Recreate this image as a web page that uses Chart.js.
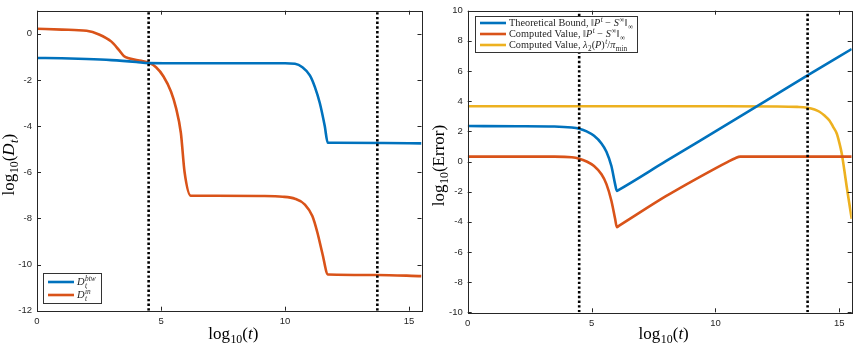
<!DOCTYPE html>
<html>
<head>
<meta charset="utf-8">
<script src="https://cdn.jsdelivr.net/npm/chart.js@4"></script>
<style>
  body { margin: 0; background: #fff; }
  .panel { position: absolute; top: 0; height: 354px; }
</style>
</head>
<body>
<div class="panel" style="left:0;width:430px"><canvas id="leftChart" width="430" height="354"></canvas></div>
<div class="panel" style="left:430px;width:426px"><canvas id="rightChart" width="426" height="354"></canvas></div>
<script>
// ---- data (x = log10(t)) ----
const btwX = [0, 1, 2, 3, 4, 4.5, 6, 8, 10, 10.4, 10.7, 11, 11.2, 11.4, 11.6, 11.72, 12, 14, 15.5];
const btwY = [-1.05, -1.06, -1.09, -1.14, -1.22, -1.27, -1.28, -1.28, -1.28, -1.3, -1.45, -1.8, -2.3, -3.0, -4.0, -4.72, -4.72, -4.73, -4.75];

const inX = [0, 1, 2, 2.5, 3, 3.3, 3.5, 3.7, 4.2, 4.5, 4.8, 5.1, 5.4, 5.6, 5.8, 5.95, 6.2, 7, 9, 9.9, 10.4, 10.8, 11.1, 11.3, 11.5, 11.73, 13.7, 15.5];
const inY = [0.22, 0.18, 0.13, -0.03, -0.34, -0.7, -0.96, -1.06, -1.17, -1.25, -1.45, -1.85, -2.5, -3.2, -4.3, -6.0, -7.02, -7.02, -7.03, -7.06, -7.15, -7.4, -7.9, -8.6, -9.5, -10.43, -10.45, -10.5];

const boundX = [0, 2, 3.5, 4.2, 4.5, 4.8, 5.1, 5.4, 5.6, 5.8, 5.95, 6.02, 6.1, 8, 10, 12, 13.7, 15.5];
const boundY = [2.35, 2.34, 2.32, 2.25, 2.17, 2.0, 1.7, 1.2, 0.65, -0.3, -1.5, -1.95, -1.88, 0.02, 2.0, 3.98, 5.7, 7.46];

const compX = [0, 3.5, 4.2, 4.5, 4.8, 5.1, 5.4, 5.6, 5.8, 5.95, 6.02, 6.1, 8, 10, 10.5, 10.8, 11.0, 12, 15.5];
const compY = [0.32, 0.32, 0.28, 0.19, 0.0, -0.3, -0.85, -1.5, -2.6, -3.8, -4.35, -4.27, -2.3, -0.45, -0.02, 0.22, 0.32, 0.32, 0.32];

const lamX = [0, 5, 10, 12.5, 13.3, 13.7, 14.0, 14.2, 14.4, 14.6, 14.75, 14.9, 15.0, 15.1, 15.2, 15.3, 15.4, 15.5];
const lamY = [3.66, 3.66, 3.66, 3.65, 3.62, 3.57, 3.45, 3.3, 3.05, 2.72, 2.3, 1.84, 1.25, 0.52, -0.55, -1.69, -2.75, -3.8];

const markerX = [4.5, 13.72];   // dotted vertical lines

const xTicks = [0, 5, 10, 15];
const leftYTicks = [-12, -10, -8, -6, -4, -2, 0];
const rightYTicks = [-10, -8, -6, -4, -2, 0, 2, 4, 6, 8, 10];

// rich labels: t = text, i = italic, sup/sub = scripts
const leftYTitle = [{t: 'log', sub: '10'}, {t: '('}, {t: 'D', i: true, sub: 't', subI: true}, {t: ')'}];
const rightYTitle = [{t: 'log', sub: '10'}, {t: '(Error)'}];
const xTitle = [{t: 'log', sub: '10'}, {t: '('}, {t: 't', i: true}, {t: ')'}];

const leftLegend = [
    [{t: 'D', i: true, sup: 'btw', supI: true, sub: 't', subI: true}],
    [{t: 'D', i: true, sup: 'in', supI: true, sub: 't', subI: true}]
];
const rightLegend = [
    [{t: 'Theoretical Bound, \u2016'}, {t: 'P', i: true, sup: 't', supI: true}, {t: ' \u2212 '}, {t: 'S', i: true, sup: '\u221E'}, {t: '\u2016', sub: '\u221E'}],
    [{t: 'Computed Value, \u2016'}, {t: 'P', i: true, sup: 't', supI: true}, {t: ' \u2212 '}, {t: 'S', i: true, sup: '\u221E'}, {t: '\u2016', sub: '\u221E'}],
    [{t: 'Computed Value, '}, {t: '\u03BB', i: true, sub: '2'}, {t: '('}, {t: 'P', i: true}, {t: ')', sup: 't', supI: true}, {t: '/'}, {t: '\u03C0', i: true, sub: 'min'}]
];

const BLUE = '#0072BD', ORANGE = '#D95319', YELLOW = '#EDB120';
const AXIS = '#262626';
const SERIF = '"Liberation Serif", "Times New Roman", serif';

function pts(xs, ys) { return xs.map((x, i) => ({x: x, y: ys[i]})); }

function curve(xs, ys, color) {
    return {
        data: pts(xs, ys), borderColor: color, borderWidth: 2.6,
        pointRadius: 0, cubicInterpolationMode: 'monotone', fill: false
    };
}

function markers(yMin, yMax) {
    return markerX.map(x => ({
        data: [{x: x, y: yMin}, {x: x, y: yMax}],
        borderColor: '#000', borderWidth: 2.6, borderDash: [2.4, 2.3],
        pointRadius: 0, fill: false
    }));
}

// draw text made of segments, returns width
function richWidth(ctx, segs, size) {
    let w = 0;
    segs.forEach(s => {
        ctx.font = (s.i ? 'italic ' : '') + size + 'px ' + SERIF;
        w += ctx.measureText(s.t).width;
        let sw = 0;
        const ss = size * 0.7;
        if (s.sup) { ctx.font = (s.supI ? 'italic ' : '') + ss + 'px ' + SERIF; sw = Math.max(sw, ctx.measureText(s.sup).width); }
        if (s.sub) { ctx.font = (s.subI ? 'italic ' : '') + ss + 'px ' + SERIF; sw = Math.max(sw, ctx.measureText(s.sub).width); }
        w += sw ? sw + 0.5 : 0;
    });
    return w;
}

function drawRich(ctx, segs, x, y, size) {
    ctx.textBaseline = 'alphabetic';
    ctx.textAlign = 'left';
    segs.forEach(s => {
        ctx.font = (s.i ? 'italic ' : '') + size + 'px ' + SERIF;
        ctx.fillText(s.t, x, y);
        x += ctx.measureText(s.t).width;
        const ss = size * 0.7;
        let sw = 0;
        if (s.sup) {
            ctx.font = (s.supI ? 'italic ' : '') + ss + 'px ' + SERIF;
            ctx.fillText(s.sup, x + 0.5, y - size * 0.38);
            sw = Math.max(sw, ctx.measureText(s.sup).width);
        }
        if (s.sub) {
            ctx.font = (s.subI ? 'italic ' : '') + ss + 'px ' + SERIF;
            ctx.fillText(s.sub, x + 0.5, y + size * 0.22);
            sw = Math.max(sw, ctx.measureText(s.sub).width);
        }
        x += sw ? sw + 0.5 : 0;
    });
}

// MATLAB-like box, inward ticks, axis titles and legend
function frame(cfg) {
    return {
        id: 'frame',
        afterDatasetsDraw(chart) {
            const ctx = chart.ctx, a = chart.chartArea;
            const xs = chart.scales.x, ys = chart.scales.y;
            ctx.save();
            ctx.strokeStyle = AXIS;
            ctx.lineWidth = 1;
            ctx.beginPath();
            xTicks.forEach(v => {
                const px = Math.round(xs.getPixelForValue(v)) + 0.5;
                ctx.moveTo(px, a.bottom); ctx.lineTo(px, a.bottom - 4);
                ctx.moveTo(px, a.top); ctx.lineTo(px, a.top + 4);
            });
            cfg.yTicks.forEach(v => {
                const py = Math.round(ys.getPixelForValue(v)) + 0.5;
                ctx.moveTo(a.left, py); ctx.lineTo(a.left + 4, py);
                ctx.moveTo(a.right, py); ctx.lineTo(a.right - 4, py);
            });
            ctx.stroke();
            ctx.strokeRect(Math.round(a.left) + 0.5, Math.round(a.top) + 0.5,
                Math.round(a.right - a.left), Math.round(a.bottom - a.top));

            // legend box
            const L = cfg.legend;
            ctx.fillStyle = '#fff';
            ctx.fillRect(L.x, L.y, L.w, L.h);
            ctx.strokeStyle = '#333';
            ctx.strokeRect(L.x + 0.5, L.y + 0.5, L.w, L.h);
            L.items.forEach((it, k) => {
                const yy = L.y + L.first + k * L.step;
                ctx.strokeStyle = it.color;
                ctx.lineWidth = 2.6;
                ctx.beginPath();
                ctx.moveTo(L.x + 5, yy); ctx.lineTo(L.x + 31, yy);
                ctx.stroke();
                ctx.fillStyle = AXIS;
                drawRich(ctx, it.label, L.x + 34, yy + L.size * 0.33, L.size);
            });

            // axis titles
            ctx.fillStyle = '#000';
            const tw = richWidth(ctx, xTitle, 17);
            drawRich(ctx, xTitle, (a.left + a.right) / 2 - tw / 2 + 4, 339, 17);
            const yw = richWidth(ctx, cfg.yTitle, 17);
            ctx.translate(cfg.yTitleX, (a.top + a.bottom) / 2 + 4);
            ctx.rotate(-Math.PI / 2);
            drawRich(ctx, cfg.yTitle, -yw / 2, 0, 17);
            ctx.restore();
        }
    };
}

function makeChart(id, datasets, cfg) {
    const tickFont = {family: '"Liberation Sans", Arial, sans-serif', size: 9.5};
    return new Chart(document.getElementById(id), {
        type: 'line',
        data: {datasets: datasets},
        options: {
            responsive: false,
            animation: false,
            devicePixelRatio: 1,
            layout: {padding: {top: cfg.top, right: cfg.right, left: 0, bottom: 0}},
            plugins: {legend: {display: false}, tooltip: {enabled: false}},
            scales: {
                x: {
                    type: 'linear', min: 0, max: 15.5,
                    grid: {display: false, drawTicks: false},
                    border: {display: false},
                    afterBuildTicks: s => { s.ticks = xTicks.map(v => ({value: v})); },
                    afterFit: s => { s.height = cfg.xHeight; },
                    ticks: {font: tickFont, color: AXIS, padding: 5, maxRotation: 0}
                },
                y: {
                    type: 'linear', min: cfg.yMin, max: cfg.yMax,
                    grid: {display: false, drawTicks: false},
                    border: {display: false},
                    afterBuildTicks: s => { s.ticks = cfg.yTicks.map(v => ({value: v})); },
                    afterFit: s => { s.width = cfg.yWidth; },
                    ticks: {font: tickFont, color: AXIS, padding: 5}
                }
            }
        },
        plugins: [frame(cfg)]
    });
}

makeChart('leftChart',
    [...markers(-12, 1), curve(btwX, btwY, BLUE), curve(inX, inY, ORANGE)],
    {
        yMin: -12, yMax: 1, yTicks: leftYTicks, top: 7, right: 8.5, xHeight: 43.3, yWidth: 37,
        yTitle: leftYTitle, yTitleX: 14,
        legend: {x: 43, y: 273, w: 58, h: 30, first: 9, step: 13, size: 10.5,
            items: [{color: BLUE, label: leftLegend[0]}, {color: ORANGE, label: leftLegend[1]}]}
    });

makeChart('rightChart',
    [...markers(-10, 10), curve(boundX, boundY, BLUE), curve(compX, compY, ORANGE), curve(lamX, lamY, YELLOW)],
    {
        yMin: -10, yMax: 10, yTicks: rightYTicks, top: 10, right: 4.3, xHeight: 41.7, yWidth: 37.7,
        yTitle: rightYTitle, yTitleX: 14,
        legend: {x: 45, y: 16, w: 162, h: 36, first: 7, step: 11, size: 10.3,
            items: [{color: BLUE, label: rightLegend[0]}, {color: ORANGE, label: rightLegend[1]}, {color: YELLOW, label: rightLegend[2]}]}
    });
</script>
</body>
</html>
